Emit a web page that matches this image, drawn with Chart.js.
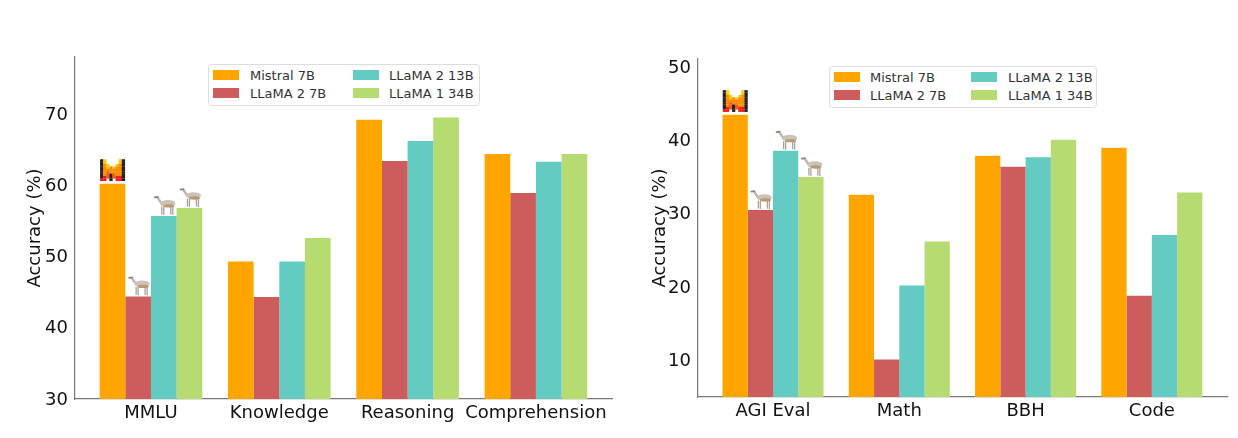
<!DOCTYPE html>
<html>
<head>
<meta charset="utf-8">
<title>Accuracy by model</title>
<script src="https://cdn.jsdelivr.net/npm/chart.js@4"></script>
<style>
    html, body { margin: 0; padding: 0; background: #fff; }
    body { width: 1238px; height: 438px; position: relative; overflow: hidden; font-family: "DejaVu Sans", sans-serif; }
    canvas { position: absolute; top: 0; }
    #leftChart { left: 0; }
    #rightChart { left: 625px; }
    .legend { position: absolute; border: 1px solid #ddd; border-radius: 4px; background: #fff; box-sizing: border-box; height: 42px; }
    .legend span { position: absolute; white-space: nowrap; }
    .legend .swatch { width: 26px; height: 10px; }
    .legend .name { font-size: 13px; line-height: 16px; color: #333; }
</style>
</head>
<body>
<canvas id="leftChart"></canvas>
<canvas id="rightChart"></canvas>
<div class="legend" id="leftLegend" style="left:208px;top:64px;width:272px"></div>
<div class="legend" id="rightLegend" style="left:829px;top:66px;width:268px"></div>

<script>
// Data
const seriesNames = ['Mistral 7B', 'LLaMA 2 7B', 'LLaMA 2 13B', 'LLaMA 1 34B'];
const seriesColors = ['#FFA500', '#CD5C5C', '#63CBC2', '#B6DC71'];

const leftCategories = ['MMLU', 'Knowledge', 'Reasoning', 'Comprehension'];
const leftMistral = [60.2, 49.3, 69.2, 64.4];
const leftLlama27 = [44.4, 44.3, 63.4, 58.9];
const leftLlama213 = [55.7, 49.3, 66.2, 63.3];
const leftLlama134 = [56.8, 52.6, 69.5, 64.4];
const leftTicks = [30, 40, 50, 60, 70];

const rightCategories = ['AGI Eval', 'Math', 'BBH', 'Code'];
const rightMistral = [43.5, 32.6, 37.9, 39.0];
const rightLlama27 = [30.5, 10.1, 36.4, 18.8];
const rightLlama213 = [38.6, 20.2, 37.7, 27.1];
const rightLlama134 = [35.0, 26.2, 40.1, 32.9];
const rightTicks = [10, 20, 30, 40, 50];

// Small pixel logo, one row per string
const logoRows = [
    'ky....yk',
    'ky....yk',
    'koy..yok',
    'koyoyook',
    'kooooook',
    'kodooook',
    'kodkdook',
    'krdkdrrk',
    'rr.k.rrk'
];
const logoColors = { k: '#222', y: '#FFC800', o: '#FF8A00', d: '#F25A10', r: '#F01818' };

function drawLogo(ctx, bar) {
    const w = 3.1, h = 2.4;
    const x0 = bar.x - 4 * w, y0 = bar.y - 3 - 9 * h;
    logoRows.forEach((row, r) => {
        [...row].forEach((c, i) => {
            if (c === '.') return;
            ctx.fillStyle = logoColors[c];
            ctx.fillRect(x0 + i * w, y0 + r * h, w + 0.2, h + 0.2);
        });
    });
}

function drawLlama(ctx, bar) {
    ctx.save();
    ctx.translate(bar.x - 11, bar.y - 21);
    ctx.lineCap = 'round';
    // legs
    ctx.strokeStyle = '#a8a298';
    ctx.lineWidth = 1.3;
    [[9, 19], [11, 19.5], [18, 19], [20, 19.5]].forEach(p => {
        ctx.beginPath();
        ctx.moveTo(p[0], 12);
        ctx.lineTo(p[0], p[1]);
        ctx.stroke();
    });
    // neck and head
    ctx.strokeStyle = '#bfb9b0';
    ctx.lineWidth = 2.6;
    ctx.beginPath();
    ctx.moveTo(9, 9);
    ctx.lineTo(5, 3);
    ctx.stroke();
    ctx.lineWidth = 1.8;
    ctx.strokeStyle = '#8b8478';
    ctx.beginPath();
    ctx.moveTo(5, 2);
    ctx.lineTo(2, 2.5);
    ctx.stroke();
    // body
    ctx.fillStyle = '#c8c2b8';
    ctx.beginPath();
    ctx.ellipse(15, 8.5, 7.5, 3.4, 0, 0, Math.PI * 2);
    ctx.fill();
    ctx.fillStyle = '#b89a70';
    ctx.beginPath();
    ctx.ellipse(16, 11, 5.5, 1.7, 0, 0, Math.PI * 2);
    ctx.fill();
    ctx.restore();
}

// Icons sit on the first group of bars
const iconPlugin = {
    id: 'icons',
    afterDatasetsDraw(chart) {
        const ctx = chart.ctx;
        chart.data.datasets.forEach((ds, i) => {
            const bar = chart.getDatasetMeta(i).data[0];
            if (i === 0) drawLogo(ctx, bar);
            else drawLlama(ctx, bar);
        });
    }
};

function toPoints(values) {
    return values.map((v, i) => ({ x: i, y: v }));
}

function makeChart(id, cfg) {
    const canvas = document.getElementById(id);
    canvas.width = cfg.width;
    canvas.height = 438;
    canvas.style.width = cfg.width + 'px';
    canvas.style.height = '438px';

    new Chart(canvas.getContext('2d'), {
        type: 'bar',
        data: {
            datasets: cfg.series.map((values, i) => ({
                label: seriesNames[i],
                data: toPoints(values),
                backgroundColor: seriesColors[i],
                borderWidth: 0,
                categoryPercentage: 0.8,
                barPercentage: 1
            }))
        },
        options: {
            responsive: false,
            animation: false,
            layout: { padding: cfg.padding },
            plugins: { legend: { display: false }, tooltip: { enabled: false } },
            scales: {
                x: {
                    type: 'linear',
                    offset: false,
                    min: cfg.xMin,
                    max: cfg.xMax,
                    afterFit: axis => { axis.height = cfg.bottomHeight; },
                    grid: { display: false, drawTicks: true, tickLength: 4, tickColor: '#777' },
                    border: { color: '#777', width: 1.2 },
                    ticks: {
                        stepSize: 1,
                        includeBounds: false,
                        maxRotation: 0,
                        autoSkip: false,
                        padding: 0,
                        color: '#111',
                        font: { family: 'DejaVu Sans', size: 18 },
                        callback: v => cfg.categories[v]
                    }
                },
                y: {
                    min: cfg.yMin,
                    max: cfg.yMax,
                    afterBuildTicks: axis => { axis.ticks = cfg.ticks.map(v => ({ value: v })); },
                    afterFit: axis => { axis.width = cfg.axisWidth; },
                    grid: { display: false, drawTicks: true, tickLength: 4, tickColor: '#777' },
                    border: { color: '#777', width: 1.2 },
                    ticks: {
                        padding: 3,
                        labelOffset: 1,
                        color: '#111',
                        font: { family: 'DejaVu Sans', size: 18 }
                    },
                    title: {
                        display: true,
                        text: 'Accuracy (%)',
                        color: '#111',
                        padding: 0,
                        font: { family: 'DejaVu Sans', size: 18 }
                    }
                }
            }
        },
        plugins: [iconPlugin]
    });
}

makeChart('leftChart', {
    width: 625,
    categories: leftCategories,
    series: [leftMistral, leftLlama27, leftLlama213, leftLlama134],
    ticks: leftTicks,
    xMin: -0.592, xMax: 3.593,
    yMin: 30, yMax: 78,
    axisWidth: 50,
    bottomHeight: 39,
    padding: { left: 25, right: 13, top: 57, bottom: 0 }
});

makeChart('rightChart', {
    width: 613,
    categories: rightCategories,
    series: [rightMistral, rightLlama27, rightLlama213, rightLlama134],
    ticks: rightTicks,
    xMin: -0.594, xMax: 3.595,
    yMin: 5, yMax: 51.1,
    axisWidth: 48,
    bottomHeight: 41,
    padding: { left: 25, right: 11, top: 59, bottom: 0 }
});

// Legends, column by column like the original
function buildLegend(id, swatchX, textX) {
    const box = document.getElementById(id);
    seriesNames.forEach((name, i) => {
        const col = i < 2 ? 0 : 1;
        const row = i % 2;
        box.insertAdjacentHTML('beforeend',
            `<span class="swatch" style="left:${swatchX[col]}px;top:${5 + row * 18}px;background:${seriesColors[i]}"></span>` +
            `<span class="name" style="left:${textX[col]}px;top:${3 + row * 18}px">${name}</span>`);
    });
}
buildLegend('leftLegend', [4, 144], [41, 180]);
buildLegend('rightLegend', [4, 141], [40, 178]);
</script>
</body>
</html>
